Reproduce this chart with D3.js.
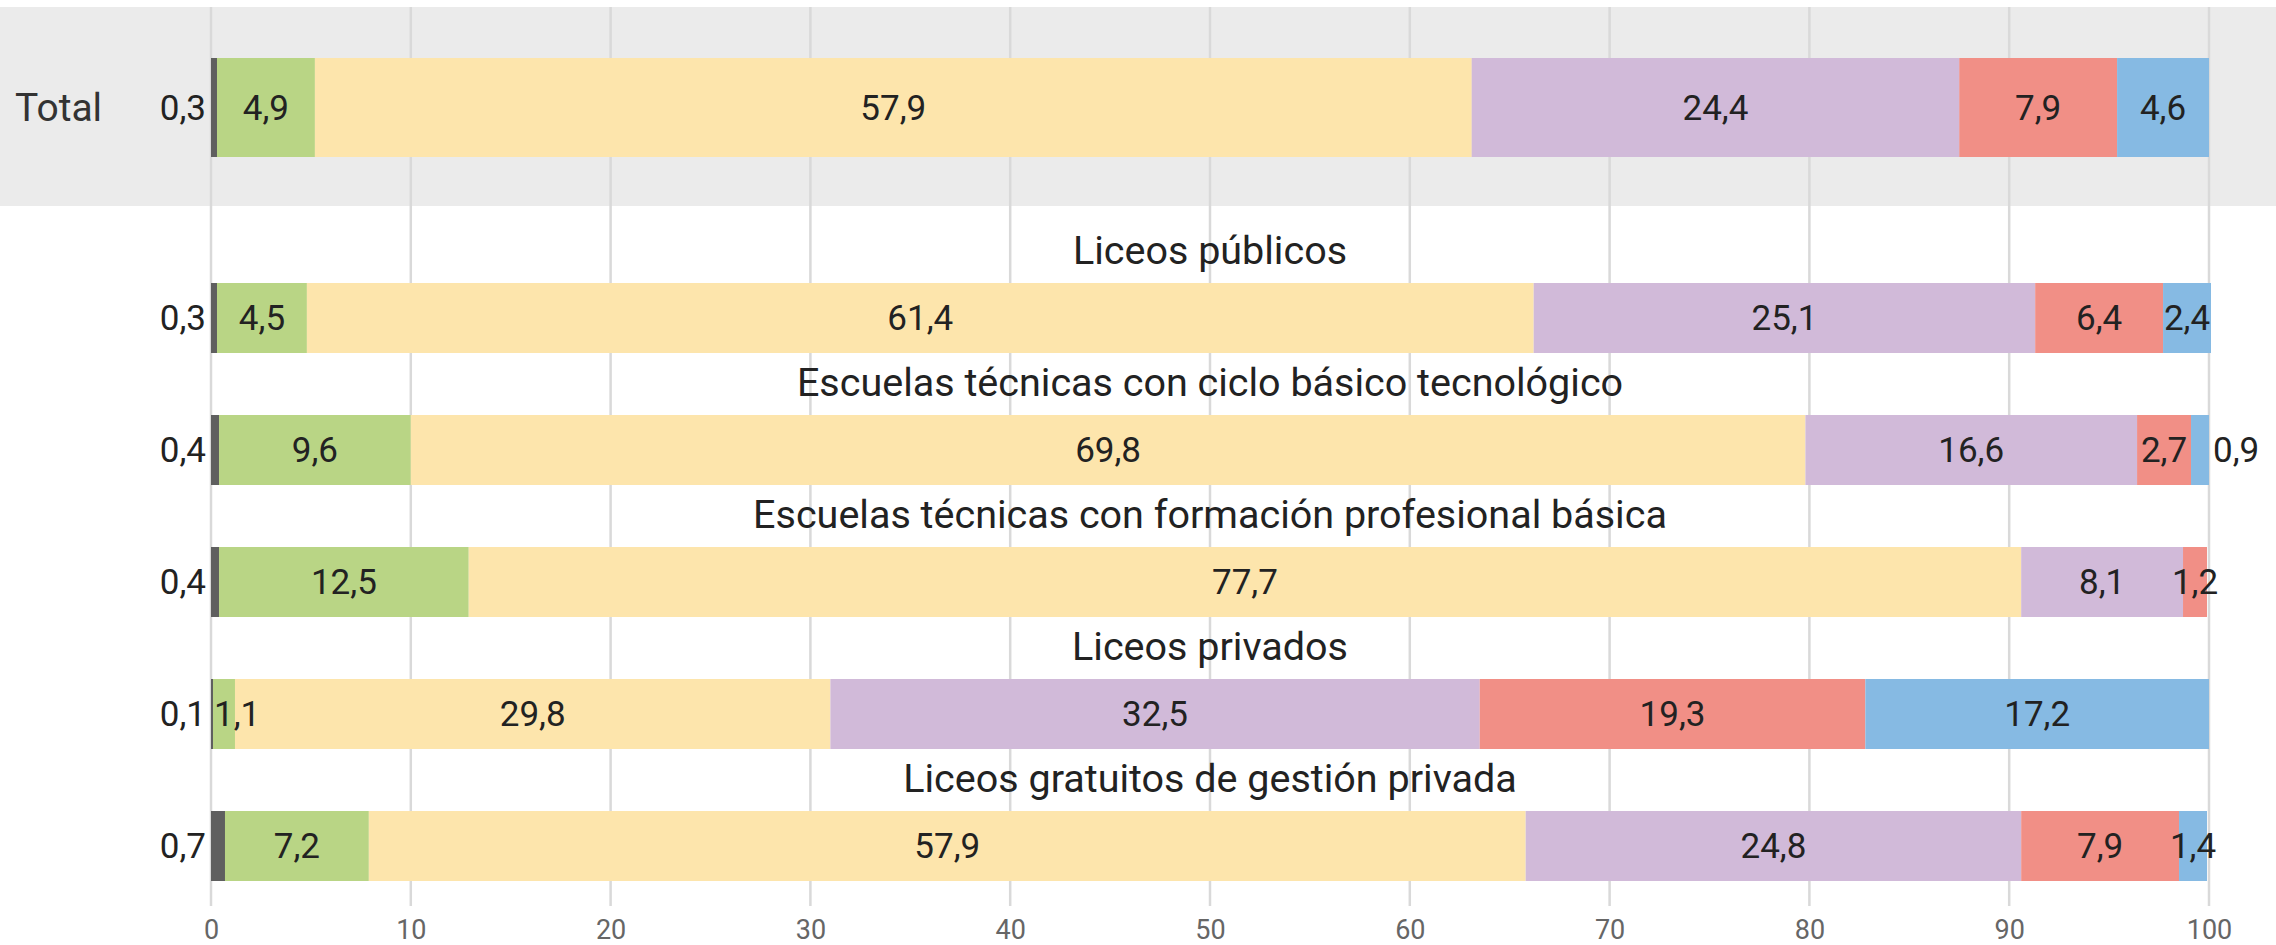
<!DOCTYPE html>
<html>
<head>
<meta charset="utf-8">
<script src="https://cdn.jsdelivr.net/npm/d3@7"></script>
<style>
  body { margin: 0; background: #fff; }
  text { font-family: Roboto, "Noto Sans", sans-serif; }
</style>
</head>
<body>
<div id="chart"></div>
<script>
var categories = ["Total", "Liceos públicos", "Escuelas técnicas con ciclo básico tecnológico",
  "Escuelas técnicas con formación profesional básica", "Liceos privados", "Liceos gratuitos de gestión privada"]

// one array per stacked segment, in the order of the categories
var serie1 = [0.3, 0.3, 0.4, 0.4, 0.1, 0.7]
var serie2 = [4.9, 4.5, 9.6, 12.5, 1.1, 7.2]
var serie3 = [57.9, 61.4, 69.8, 77.7, 29.8, 57.9]
var serie4 = [24.4, 25.1, 16.6, 8.1, 32.5, 24.8]
var serie5 = [7.9, 6.4, 2.7, 1.2, 19.3, 7.9]
var serie6 = [4.6, 2.4, 0.9, 0, 17.2, 1.4]
var series = [serie1, serie2, serie3, serie4, serie5, serie6]
var colors = ["#5f5f5f", "#b9d585", "#fde5ac", "#d1bad9", "#f18f86", "#86bae3"]
var tickValues = [0, 10, 20, 30, 40, 50, 60, 70, 80, 90, 100]

var width = 2276, height = 945

var svg = d3.select("#chart").append("svg")
  .attr("width", width)
  .attr("height", height)

var fmt = d3.formatLocale({decimal: ",", thousands: ".", grouping: [3], currency: ["", "$"]}).format(".1f")

var x = d3.scaleLinear().domain([0, 100]).range([211, 2209])
// rows under the total
var y = d3.scalePoint().domain(categories.slice(1)).range([318, 846])

function rowY(i) { return i == 0 ? 107.5 : y(categories[i]) }
function rowH(i) { return i == 0 ? 99 : 70 }

// gray band for the total
svg.append("rect")
  .attr("x", 0).attr("y", 7)
  .attr("width", width).attr("height", 199)
  .style("fill", "#ebebeb")

// grid
svg.append("g")
  .selectAll("line")
  .data(tickValues)
  .enter()
  .append("line")
    .attr("x1", d => x(d)).attr("x2", d => x(d))
    .attr("y1", 7).attr("y2", 906)
    .style("stroke", "#d9d9d9")
    .style("stroke-width", 2.5)

// stack the data
var rows = categories.map(function(c, i) {
  var start = 0
  return series.map(function(s, k) {
    var seg = {row: i, k: k, v: s[i], x0: start, x1: start + s[i]}
    start += s[i]
    return seg
  })
})
var segs = rows.flat()

svg.append("g")
  .selectAll("rect")
  .data(segs.filter(d => d.v > 0))
  .enter()
  .append("rect")
    .attr("x", d => x(d.x0))
    .attr("width", d => x(d.x1) - x(d.x0))
    .attr("y", d => rowY(d.row) - rowH(d.row) / 2)
    .attr("height", d => rowH(d.row))
    .style("fill", d => colors[d.k])

// value labels
var labels = svg.append("g")
  .selectAll("text")
  .data(segs.filter(d => d.v > 0))
  .enter()
  .append("text")
    .attr("x", function(d) {
      if (d.v < 1 && d.k == 0) return x(d.x0) - 5
      if (d.v < 1) return x(d.x1) + 4
      return x((d.x0 + d.x1) / 2)
    })
    .attr("y", d => rowY(d.row))
    .attr("dy", "0.35em")
    .attr("text-anchor", function(d) {
      if (d.v < 1 && d.k == 0) return "end"
      if (d.v < 1) return "start"
      return "middle"
    })
    .style("font-size", "35px")
    .style("fill", "#222")
    .text(d => fmt(d.v))

// keep centred labels from spilling left of the zero line
labels.each(function(d) {
  if (d.v < 1) return
  var w = this.getComputedTextLength()
  var cx = x((d.x0 + d.x1) / 2)
  if (cx - w / 2 < x(0) + 2) {
    d3.select(this).attr("text-anchor", "start").attr("x", x(0) + 3)
  }
})

// row titles
svg.append("g")
  .selectAll("text")
  .data(categories.slice(1))
  .enter()
  .append("text")
    .attr("x", x(50))
    .attr("y", d => y(d) - 35 - 19)
    .attr("text-anchor", "middle")
    .style("font-size", "39.5px")
    .style("fill", "#222")
    .text(d => d)

svg.append("text")
  .attr("x", 15)
  .attr("y", rowY(0))
  .attr("dy", "0.35em")
  .style("font-size", "39px")
  .style("fill", "#333")
  .text(categories[0])

// x axis
var axis = svg.append("g")
  .attr("transform", "translate(0,912)")
  .call(d3.axisBottom(x).tickValues(tickValues).tickSize(0).tickPadding(8))
axis.select(".domain").remove()
axis.selectAll("text")
  .style("font-family", "Roboto, sans-serif")
  .style("font-size", "27px")
  .style("fill", "#666")
</script>
</body>
</html>
